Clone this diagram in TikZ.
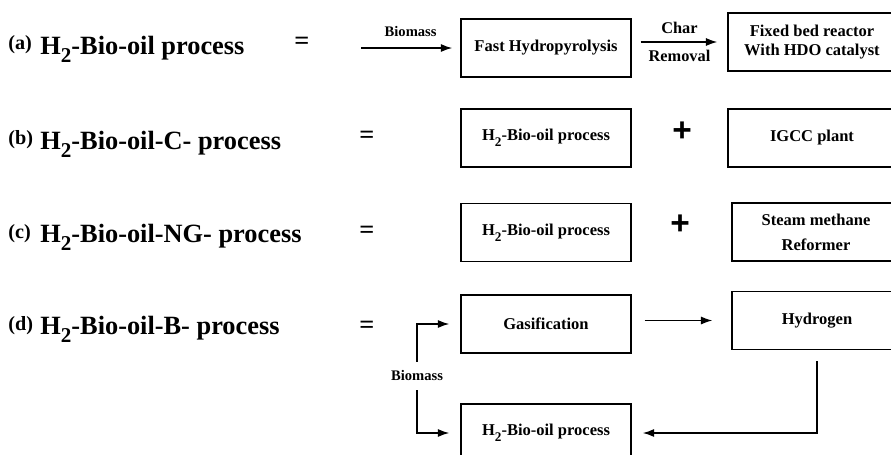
\documentclass[tikz,border=0pt]{standalone}
\usepackage{fontspec}
\setmainfont{Liberation Serif}
\newfontfamily\plusfont{Liberation Sans}
\usetikzlibrary{arrows.meta, positioning, calc}

\newcommand{\htwo}{H\raisebox{-0.34em}{\scalebox{0.8}{2}}}

\begin{document}
\begin{tikzpicture}[
  x=0.2mm, y=-0.2mm,
  blk/.style={draw, line width=0.8pt, minimum width=3.4cm, minimum height=1.16cm,
              font=\fontsize{9.4}{10.4}\selectfont\bfseries, align=center, inner sep=2pt},
  arr/.style={-{Latex[length=6.5pt, width=4.6pt]}, line width=0.75pt},
  ttl/.style={anchor=base west, inner sep=0pt, font=\fontsize{15}{18}\selectfont\bfseries},
  tag/.style={anchor=base west, inner sep=0pt, font=\fontsize{11.5}{14}\selectfont\bfseries},
  eq/.style={inner sep=0pt, font=\fontsize{15}{18}\selectfont\bfseries},
  pls/.style={inner sep=0pt, font=\plusfont\fontsize{19}{22}\selectfont\bfseries},
  sig/.style={font=\fontsize{8.3}{10}\selectfont\bfseries},
]
\useasboundingbox (0,0) rectangle (891,455);
\clip (0,0) rectangle (891,455);

% ---- Row (a) ---------------------------------------------------------------
\node[tag] (taga) at (8, 49) {(a)};
\node[ttl] (ttla) at (40, 54) {\htwo-Bio-oil process};
\node[eq]  (eqa)  at (302, 43) {=};
\coordinate (bioIn) at (361, 48);
\node[blk] (hydro)  at (546, 48) {Fast Hydropyrolysis};
\node[blk, minimum width=3.36cm] (fixbed) at (812, 42)
  {Fixed bed reactor\\With HDO catalyst};
\draw[arr, shorten >=4.6pt] (bioIn) -- node[above=3pt, sig]{Biomass} (hydro.west);
\draw[arr, shorten <=5.1pt, shorten >=5.7pt] (hydro.east |- fixbed.west) --
  node[above=1pt, sig, font=\fontsize{9.3}{11}\selectfont\bfseries]{Char}
  node[below=1pt, sig, font=\fontsize{9.3}{11}\selectfont\bfseries]{Removal}
  (fixbed.west);

% ---- Row (b) ---------------------------------------------------------------
\node[tag] (tagb) at (8, 144) {(b)};
\node[ttl] (ttlb) at (40, 149) {\htwo-Bio-oil-C- process};
\node[eq]  (eqb)  at (367, 137) {=};
\node[blk] (bioC) at (546, 138) {\htwo-Bio-oil process};
\node[pls] (plsb) at (682, 132) {+};
\node[blk, minimum width=3.36cm] (igcc) at (812, 138) {IGCC plant};

% ---- Row (c) ---------------------------------------------------------------
\node[tag] (tagc) at (8, 238) {(c)};
\node[ttl] (ttlc) at (40, 242) {\htwo-Bio-oil-NG- process};
\node[eq]  (eqc)  at (367, 232) {=};
\node[blk] (bioNG) at (546, 232.5) {\htwo-Bio-oil process};
\node[pls] (plsc)  at (680, 225) {+};
\node[blk, minimum width=3.36cm] (smr) at (816, 232)
  {Steam methane\\[4pt]Reformer};

% ---- Row (d) ---------------------------------------------------------------
\node[tag] (tagd) at (8, 330) {(d)};
\node[ttl] (ttld) at (40, 334) {\htwo-Bio-oil-B- process};
\node[eq]  (eqd)  at (367, 327) {=};
\node[blk] (gasif)    at (546, 324) {Gasification};
\node[blk] (hydrogen) at (817, 320.5) {Hydrogen};
\node[blk] (bioB)     at (546, 433) {\htwo-Bio-oil process};
\node[sig, minimum height=16pt, inner sep=0pt] (biomass) at (417, 376) {Biomass};

\draw[arr, shorten >=6.3pt] (biomass.north) |- (gasif.west);
\draw[arr, shorten >=6.3pt] (biomass.south) |- (bioB.west);
\draw[arr, shorten <=7.4pt, shorten >=10.8pt] (gasif.east |- hydrogen.west) -- (hydrogen.west);
\draw[arr, shorten <=6.3pt, shorten >=6.3pt] (hydrogen.south) |- (bioB.east);

\end{tikzpicture}
\end{document}
